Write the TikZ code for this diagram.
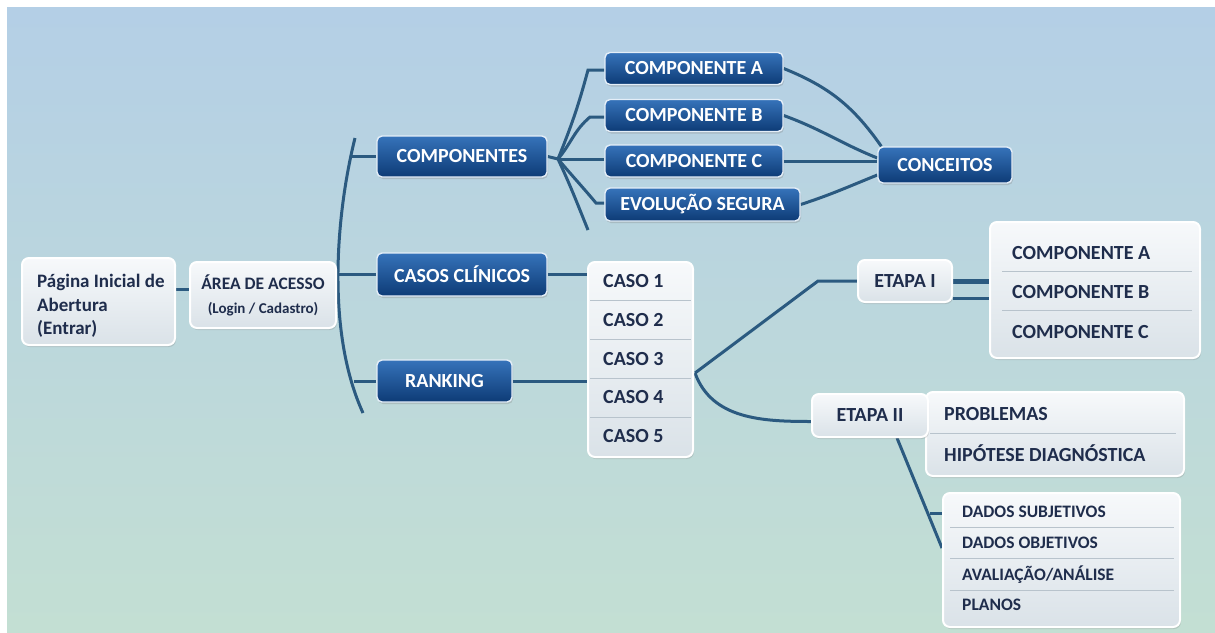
\documentclass[tikz,border=0pt]{standalone}
\usepackage{fontspec}
\setmainfont{Carlito}
\usetikzlibrary{shadows,calc}
\definecolor{lnk}{HTML}{2B5A80}
\definecolor{dtop}{HTML}{3673BA}
\definecolor{dbot}{HTML}{0D3B76}
\definecolor{dedge}{HTML}{E4EEF8}
\definecolor{ltop}{HTML}{F7F9FB}
\definecolor{lbot}{HTML}{DAE2E8}
\definecolor{ltxt}{HTML}{1F2D4C}
\definecolor{sepc}{HTML}{B8C3CC}
\definecolor{bgtop}{HTML}{B4CFE6}
\definecolor{bgmid}{HTML}{CBE0EA}
\definecolor{bgbot}{HTML}{C3DFD3}
\pgfdeclarelayer{bgl}
\pgfdeclarelayer{lines}
\pgfsetlayers{bgl,lines,main}
\tikzset{
  darkbox/.style={rounded corners=5pt, top color=dtop, bottom color=dbot, draw=dedge,
    line width=1.4pt, text=white, font=\fontsize{20}{23}\selectfont\bfseries, inner sep=0pt,
    drop shadow={opacity=0.3, shadow xshift=1pt, shadow yshift=-2pt}},
  lightbox/.style={rounded corners=7pt, top color=ltop, bottom color=lbot, draw=white,
    line width=2pt, text=ltxt, inner sep=0pt,
    drop shadow={opacity=0.25, shadow xshift=1pt, shadow yshift=-2pt}},
  lbl/.style={text=ltxt, font=\fontsize{20}{23}\selectfont\bfseries, inner sep=0pt, anchor=west},
  slbl/.style={text=ltxt, font=\fontsize{17.5}{20}\selectfont\bfseries, inner sep=0pt, anchor=west},
  link/.style={draw=lnk, line width=3pt},
  sepline/.style={draw=sepc, line width=0.9pt},
}
\begin{document}
\begin{tikzpicture}[x=1pt,y=-1pt]
\useasboundingbox (0,0) rectangle (1215,632);
\begin{pgfonlayer}{bgl}
  \shade[top color=bgtop, middle color=bgmid, bottom color=bgbot] (7,7) rectangle (1215,632);
\end{pgfonlayer}

% left nodes
\node[lightbox, minimum width=153pt, minimum height=87pt] (pag) at (98.5,301.5) {};
\node[lbl, align=left, font=\fontsize{19}{23.5}\selectfont\bfseries] (pagt) at (37,306)
  {Página Inicial de\\Abertura\\(Entrar)};
\node[lightbox, minimum width=146pt, minimum height=66pt, align=center,
  font=\fontsize{17.5}{24}\selectfont\bfseries] (area) at (263,295)
  {ÁREA DE ACESSO\\{\fontsize{15}{18}\selectfont (Login / Cadastro)}};

% dark boxes
\node[darkbox, minimum width=170pt, minimum height=41pt] (comps) at (462,156.5) {COMPONENTES};
\node[darkbox, minimum width=170pt, minimum height=43pt] (casos) at (462,274.5) {CASOS CLÍNICOS};
\node[darkbox, minimum width=135pt, minimum height=42pt] (ranking) at (444.5,381) {RANKING};
\node[darkbox, minimum width=178pt, minimum height=32pt] (compA) at (694,68.5) {COMPONENTE A};
\node[darkbox, minimum width=178pt, minimum height=32pt] (compB) at (694,115.5) {COMPONENTE B};
\node[darkbox, minimum width=178pt, minimum height=32pt] (compC) at (694,161) {COMPONENTE C};
\node[darkbox, minimum width=195pt, minimum height=33pt] (evol) at (702.5,204.5) {EVOLUÇÃO SEGURA};
\node[darkbox, minimum width=134pt, minimum height=36pt] (conc) at (945,165) {CONCEITOS};

% caso list
\node[lightbox, minimum width=105pt, minimum height=195pt] (clist) at (640.5,359.5) {};
\foreach \yy/\nm in {300/s1,339/s2,378/s3,417/s4}
  \draw[sepline] (590,\yy) coordinate (\nm a) -- (691,\yy) coordinate (\nm b);
\node[lbl] (c1) at (603,281) {CASO 1};
\node[lbl] (c2) at (603,320) {CASO 2};
\node[lbl] (c3) at (603,359) {CASO 3};
\node[lbl] (c4) at (603,397.5) {CASO 4};
\node[lbl] (c5) at (603,436) {CASO 5};

% etapa I
\node[lightbox, minimum width=94pt, minimum height=42pt, font=\fontsize{20}{23}\selectfont\bfseries] (et1) at (905,281) {ETAPA I};
\node[lightbox, minimum width=210pt, minimum height=136pt] (cbox) at (1095,290) {};
\foreach \yy/\nm in {271/t1,310/t2}
  \draw[sepline] (1002,\yy) coordinate (\nm a) -- (1192,\yy) coordinate (\nm b);
\node[lbl] (ca) at (1012,253) {COMPONENTE A};
\node[lbl] (cb) at (1012,292) {COMPONENTE B};
\node[lbl] (cc) at (1012,332) {COMPONENTE C};

% etapa II
\node[lightbox, minimum width=258pt, minimum height=84pt] (pbox) at (1055,434) {};
\draw[sepline] (930,433) coordinate (u1a) -- (1176,433) coordinate (u1b);
\node[lbl] (prob) at (944,414) {PROBLEMAS};
\node[lbl] (hip) at (944,453) {HIPÓTESE DIAGNÓSTICA};
\node[lightbox, minimum width=116pt, minimum height=43pt, font=\fontsize{20}{23}\selectfont\bfseries] (et2) at (870,415.5) {ETAPA II};

% lower box
\node[lightbox, minimum width=237pt, minimum height=134pt] (lbox) at (1061.5,560) {};
\foreach \yy/\nm in {527/v1,558/v2,590/v3}
  \draw[sepline] (950,\yy) coordinate (\nm a) -- (1174,\yy) coordinate (\nm b);
\node[slbl] (d1) at (962,512) {DADOS SUBJETIVOS};
\node[slbl] (d2) at (962,543) {DADOS OBJETIVOS};
\node[slbl] (d3) at (962,575) {AVALIAÇÃO/ANÁLISE};
\node[slbl] (d4) at (962,605) {PLANOS};

% connectors
\coordinate (arcT) at (355,138);
\coordinate (arcB) at (363,413);
\coordinate (fan) at (558,159);
\coordinate (kneeA) at (588,70);
\coordinate (kneeB) at (590,117);
\coordinate (kneeE) at (596,203);
\coordinate (fanend) at (588,230);
\coordinate (cfan) at (695,373);
\coordinate (ebend) at (818,281);
\coordinate (tick) at (930,513);
\begin{pgfonlayer}{lines}
  \draw[link] (arcT) .. controls (337,210) and (325,330) .. (arcB);
  \draw[link] (pag.east |- 0,289) -- (area.west |- 0,289);
  \draw[link] (area.east |- casos.west) -- (casos.west);
  \draw[link] (comps.west) -- ++(-24,0);
  \draw[link] (ranking.west) -- ++(-22,0);
  \draw[link] (casos.east) -- (casos.east -| clist.west);
  \draw[link] (ranking.east) -- (ranking.east -| clist.west);
  \draw[link] (comps.east) -- (fan);
  \draw[link] (fan) to[out=68,in=-105] (kneeA) -- (kneeA -| compA.west);
  \draw[link] (fan) to[out=50,in=-140] (kneeB) -- (kneeB -| compB.west);
  \draw[link] (fan) -- (fan -| compC.west);
  \draw[link] (fan) to[out=-50,in=130] (kneeE) -- (kneeE -| evol.west);
  \draw[link] (fan) to[out=-65,in=112] (fanend);
  \draw[link] (compA.east) to[out=-22,in=125] ([xshift=4pt]conc.north west);
  \draw[link] (compB.east) to[out=-20,in=158] ([yshift=7pt]conc.west);
  \draw[link] (compC.east) -- (compC.east -| conc.west);
  \draw[link] (evol.east) to[out=18,in=-158] ([yshift=-10pt]conc.west);
  \draw[link] (cfan) -- (ebend) -- (et1.west);
  \draw[link] (cfan) to[out=-70,in=180] ([yshift=-6pt]et2.west);
  \draw[link, line width=5pt] (et1.east) -- (et1.east -| cbox.west);
  \draw[link] ([yshift=-17pt]et1.east) -- ([yshift=-17pt]et1.east -| cbox.west);
  \draw[link] ([xshift=27pt]et2.south) -- ($(lbox.west)+(0,-12)$);
  \draw[link] (tick) -- (tick -| lbox.west);
\end{pgfonlayer}
\end{tikzpicture}
\end{document}
